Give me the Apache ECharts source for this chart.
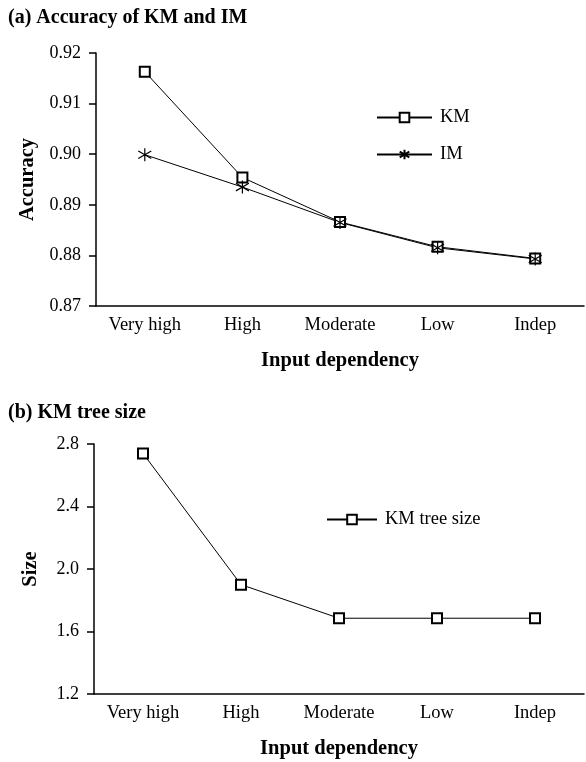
<!DOCTYPE html>
<html>
<head>
<meta charset="utf-8">
<script src="https://cdn.jsdelivr.net/npm/echarts@6/dist/echarts.min.js"></script>
<style>
  html, body { margin: 0; padding: 0; background: #fff; }
  #chart { width: 586px; height: 762px; }
</style>
</head>
<body>
<div id="chart"></div>
<script>
const categories = ["Very high", "High", "Moderate", "Low", "Indep"];
const kmAccuracy = [0.9163, 0.8954, 0.8866, 0.8817, 0.8794];
const imAccuracy = [0.8999, 0.8935, 0.8865, 0.8815, 0.8793];
const kmTreeSize = [2.74, 1.90, 1.685, 1.685, 1.685];
const accTicks = { min: 0.87, max: 0.92, step: 0.01 };
const sizeTicks = { min: 1.2, max: 2.8, step: 0.4 };

const FONT = "'Liberation Serif', 'Times New Roman', serif";
const INK = "#000";
const STAR = "path://M6,0L6,12M0,2.5L12,9.5M0,9.5L12,2.5";

function xAxis(gridIndex) {
  return {
    type: "category", gridIndex, data: categories,
    axisLine: { lineStyle: { color: INK, width: 1.5 } },
    axisTick: { length: 8, lineStyle: { color: INK, width: 1.5 } },
    axisLabel: { color: INK, fontFamily: FONT, fontSize: 18.5, margin: 10 },
    name: "Input dependency", nameLocation: "middle", nameGap: 44,
    nameTextStyle: { color: INK, fontFamily: FONT, fontSize: 20.5, fontWeight: "bold" },
  };
}

function yAxis(gridIndex, t, digits, name, gap) {
  return {
    type: "value", gridIndex, min: t.min, max: t.max, interval: t.step,
    axisLine: { show: true, lineStyle: { color: INK, width: 1.5 } },
    axisTick: { show: true, length: 7, lineStyle: { color: INK, width: 1.5 } },
    splitLine: { show: false },
    axisLabel: {
      color: INK, fontFamily: FONT, fontSize: 18, margin: 15,
      formatter: (v) => v.toFixed(digits),
    },
    name, nameLocation: "middle", nameGap: gap, nameRotate: 90,
    nameTextStyle: { color: INK, fontFamily: FONT, fontSize: 20.5, fontWeight: "bold" },
  };
}

const lineStyle = { color: INK, width: 1 };

const chart = echarts.init(document.getElementById("chart"), null, { renderer: "canvas" });
chart.setOption({
  animation: false,
  backgroundColor: "#fff",
  title: [
    { text: "(a) Accuracy of KM and IM", left: 3, top: 3,
      textStyle: { fontFamily: FONT, fontSize: 20, fontWeight: "bold", color: INK } },
    { text: "(b) KM tree size", left: 3, top: 398,
      textStyle: { fontFamily: FONT, fontSize: 20, fontWeight: "bold", color: INK } },
  ],
  legend: [
    { data: ["KM", "IM"], orient: "vertical", left: 371, top: 103, itemGap: 18,
      itemWidth: 55, itemHeight: 12,
      textStyle: { fontFamily: FONT, fontSize: 18.5, color: INK, padding: [0, 0, 0, 3] } },
    { data: ["KM tree size"], left: 321, top: 505,
      itemWidth: 50, itemHeight: 12,
      textStyle: { fontFamily: FONT, fontSize: 18.5, color: INK, padding: [0, 0, 0, 3] } },
  ],
  grid: [
    { left: 96, right: 2, top: 53, height: 253 },
    { left: 94, right: 2, top: 444, height: 250 },
  ],
  xAxis: [xAxis(0), xAxis(1)],
  yAxis: [
    yAxis(0, accTicks, 2, "Accuracy", 55),
    yAxis(1, sizeTicks, 1, "Size", 53),
  ],
  series: [
    { name: "KM", type: "line", xAxisIndex: 0, yAxisIndex: 0, data: kmAccuracy,
      symbol: "emptyRect", symbolSize: 10, lineStyle,
      itemStyle: { color: INK, borderColor: INK, borderWidth: 1.2 } },
    { name: "IM", type: "line", xAxisIndex: 0, yAxisIndex: 0, data: imAccuracy,
      symbol: STAR, symbolSize: 13, lineStyle,
      itemStyle: { color: INK, borderColor: INK, borderWidth: 1.2 } },
    { name: "KM tree size", type: "line", xAxisIndex: 1, yAxisIndex: 1, data: kmTreeSize,
      symbol: "emptyRect", symbolSize: 10, lineStyle,
      itemStyle: { color: INK, borderColor: INK, borderWidth: 1.2 } },
  ],
});
</script>
</body>
</html>
